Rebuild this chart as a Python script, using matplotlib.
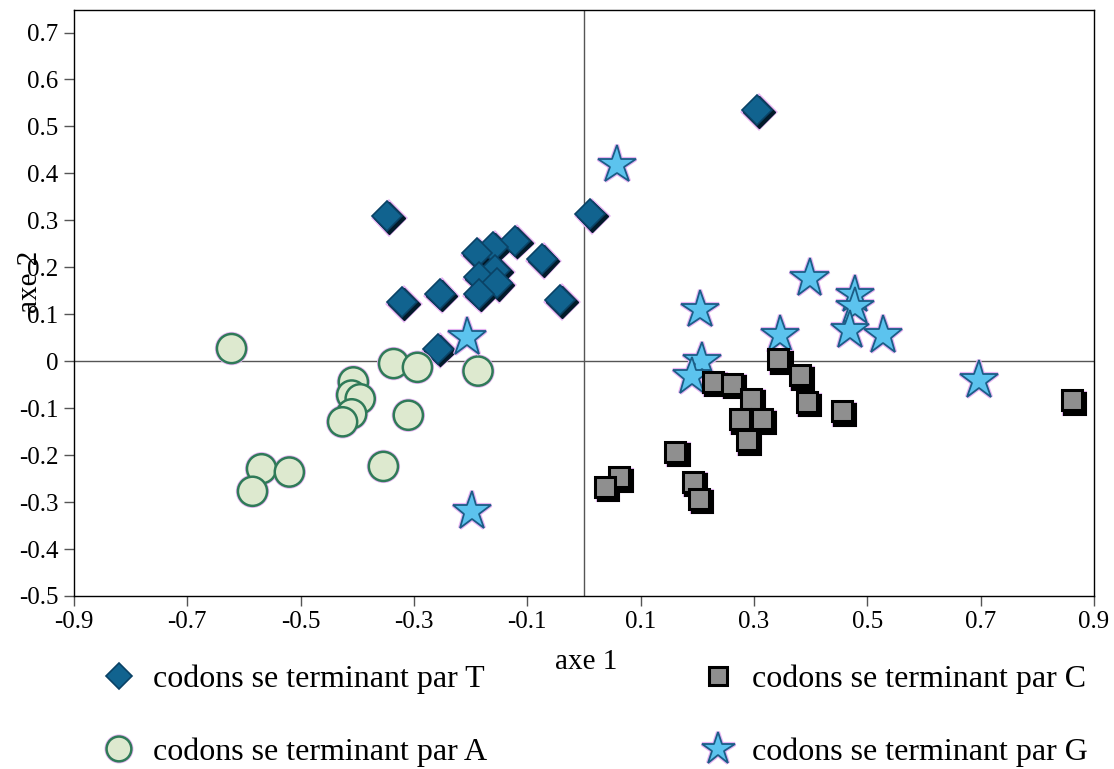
import matplotlib
matplotlib.use("Agg")
import matplotlib.pyplot as plt
import matplotlib.patheffects as pe
import matplotlib.transforms as mtransforms

plt.rcParams['font.family'] = ['Liberation Serif', 'DejaVu Serif']

# Data: codon coordinates on the first two factorial axes
t_x = [-0.347, 0.011, -0.122, -0.160, -0.189, -0.075, -0.157, -0.186, -0.154,
       -0.186, -0.255, -0.321, -0.042, -0.258, 0.305]
t_y = [0.309, 0.313, 0.257, 0.244, 0.230, 0.218, 0.194, 0.180, 0.166,
       0.144, 0.144, 0.126, 0.130, 0.027, 0.535]

a_x = [-0.622, -0.336, -0.294, -0.187, -0.407, -0.410, -0.395, -0.410, -0.426,
       -0.310, -0.354, -0.569, -0.520, -0.585]
a_y = [0.027, -0.005, -0.013, -0.021, -0.044, -0.072, -0.080, -0.112, -0.129,
       -0.115, -0.224, -0.229, -0.236, -0.277]

c_x = [0.343, 0.381, 0.227, 0.261, 0.294, 0.393, 0.455, 0.275, 0.314,
       0.287, 0.161, 0.061, 0.037, 0.192, 0.203, 0.861]
c_y = [0.004, -0.030, -0.044, -0.048, -0.080, -0.087, -0.107, -0.124, -0.124,
       -0.168, -0.193, -0.247, -0.268, -0.257, -0.293, -0.083]

g_x = [0.058, -0.206, -0.198, 0.205, 0.398, 0.346, 0.478, 0.478, 0.469,
       0.528, 0.208, 0.190, 0.697]
g_y = [0.418, 0.051, -0.320, 0.109, 0.176, 0.055, 0.141, 0.116, 0.066,
       0.055, -0.001, -0.033, -0.041]

labels = ["codons se terminant par T", "codons se terminant par A",
          "codons se terminant par C", "codons se terminant par G"]
x_ticks = [-0.9, -0.7, -0.5, -0.3, -0.1, 0.1, 0.3, 0.5, 0.7, 0.9]
y_ticks = [-0.5, -0.4, -0.3, -0.2, -0.1, 0, 0.1, 0.2, 0.3, 0.4, 0.5, 0.6, 0.7]

fig = plt.figure(figsize=(11.14, 7.69), dpi=100)
ax = fig.add_axes([74 / 1114, 1 - 596 / 769, 1020 / 1114, 586 / 769])

ax.axhline(0, color='#555555', lw=1.0, zorder=1)
ax.axvline(0, color='#555555', lw=1.0, zorder=1)

glow = [pe.Stroke(linewidth=3.0, foreground='#e6b3f2'), pe.Normal()]
shadow_tr = mtransforms.offset_copy(ax.transData, fig=fig, x=3, y=-3, units='dots')
shadow_tr2 = mtransforms.offset_copy(ax.transData, fig=fig, x=2, y=-2, units='dots')

# T: diamonds with dark lower-right shade
ax.plot(t_x, t_y, ls='none', marker='D', ms=16, mfc='#021a2a', mec='#021a2a',
        mew=1.0, zorder=3, transform=shadow_tr2, path_effects=glow)
h_t, = ax.plot(t_x, t_y, ls='none', marker='D', ms=15, mfc='#11638f',
               mec='#0a4266', mew=1.2, zorder=3.1)
# A: circles
h_a, = ax.plot(a_x, a_y, ls='none', marker='o', ms=21, mfc='#dde9cf',
               mec='#2f7a58', mew=1.8, zorder=3.2, path_effects=glow)
# G: stars
h_g, = ax.plot(g_x, g_y, ls='none', marker='*', ms=29, mfc='#5cc3ee',
               mec='#1b5d86', mew=1.3, zorder=4, path_effects=glow)
# C: squares with black shadow
ax.plot(c_x, c_y, ls='none', marker='s', ms=15, mfc='black', mec='black',
        mew=2.2, zorder=5, transform=shadow_tr,
        path_effects=[pe.Stroke(linewidth=3.0, foreground='#e6b3f2'), pe.Normal()])
h_c, = ax.plot(c_x, c_y, ls='none', marker='s', ms=15, mfc='#8f8f8f',
               mec='black', mew=2.2, zorder=5.1)

ax.set_xlim(-0.9, 0.9)
ax.set_ylim(-0.5, 0.748)
ax.set_xticks(x_ticks)
ax.set_xticklabels([f"{v:g}" for v in x_ticks])
ax.set_yticks(y_ticks)
ax.set_yticklabels([f"{v:g}" for v in y_ticks])
ax.tick_params(direction='out', length=7, width=1, color='#555555',
               labelsize=18, pad=4)
for s in ax.spines.values():
    s.set_linewidth(1.0)
    s.set_color('black')

fig.text(586 / 1114, 1 - 662 / 769, "axe 1", fontsize=21, ha='center', va='center')
fig.text(30 / 1114, 1 - 282 / 769, "axe 2", fontsize=21, ha='center',
         va='center', rotation=90)

leg = fig.legend([h_t, h_a, h_c, h_g], labels, ncol=2, frameon=False,
                 fontsize=23, loc='upper left',
                 bbox_to_anchor=(103 / 1114, 1 - 665 / 769),
                 handlelength=1.0, handletextpad=0.55, columnspacing=6.75,
                 labelspacing=1.35, borderaxespad=0, borderpad=0)
for h in leg.legend_handles:
    h.set_markersize(h.get_markersize() * 0.85)

fig.savefig("out.png", dpi=100)
